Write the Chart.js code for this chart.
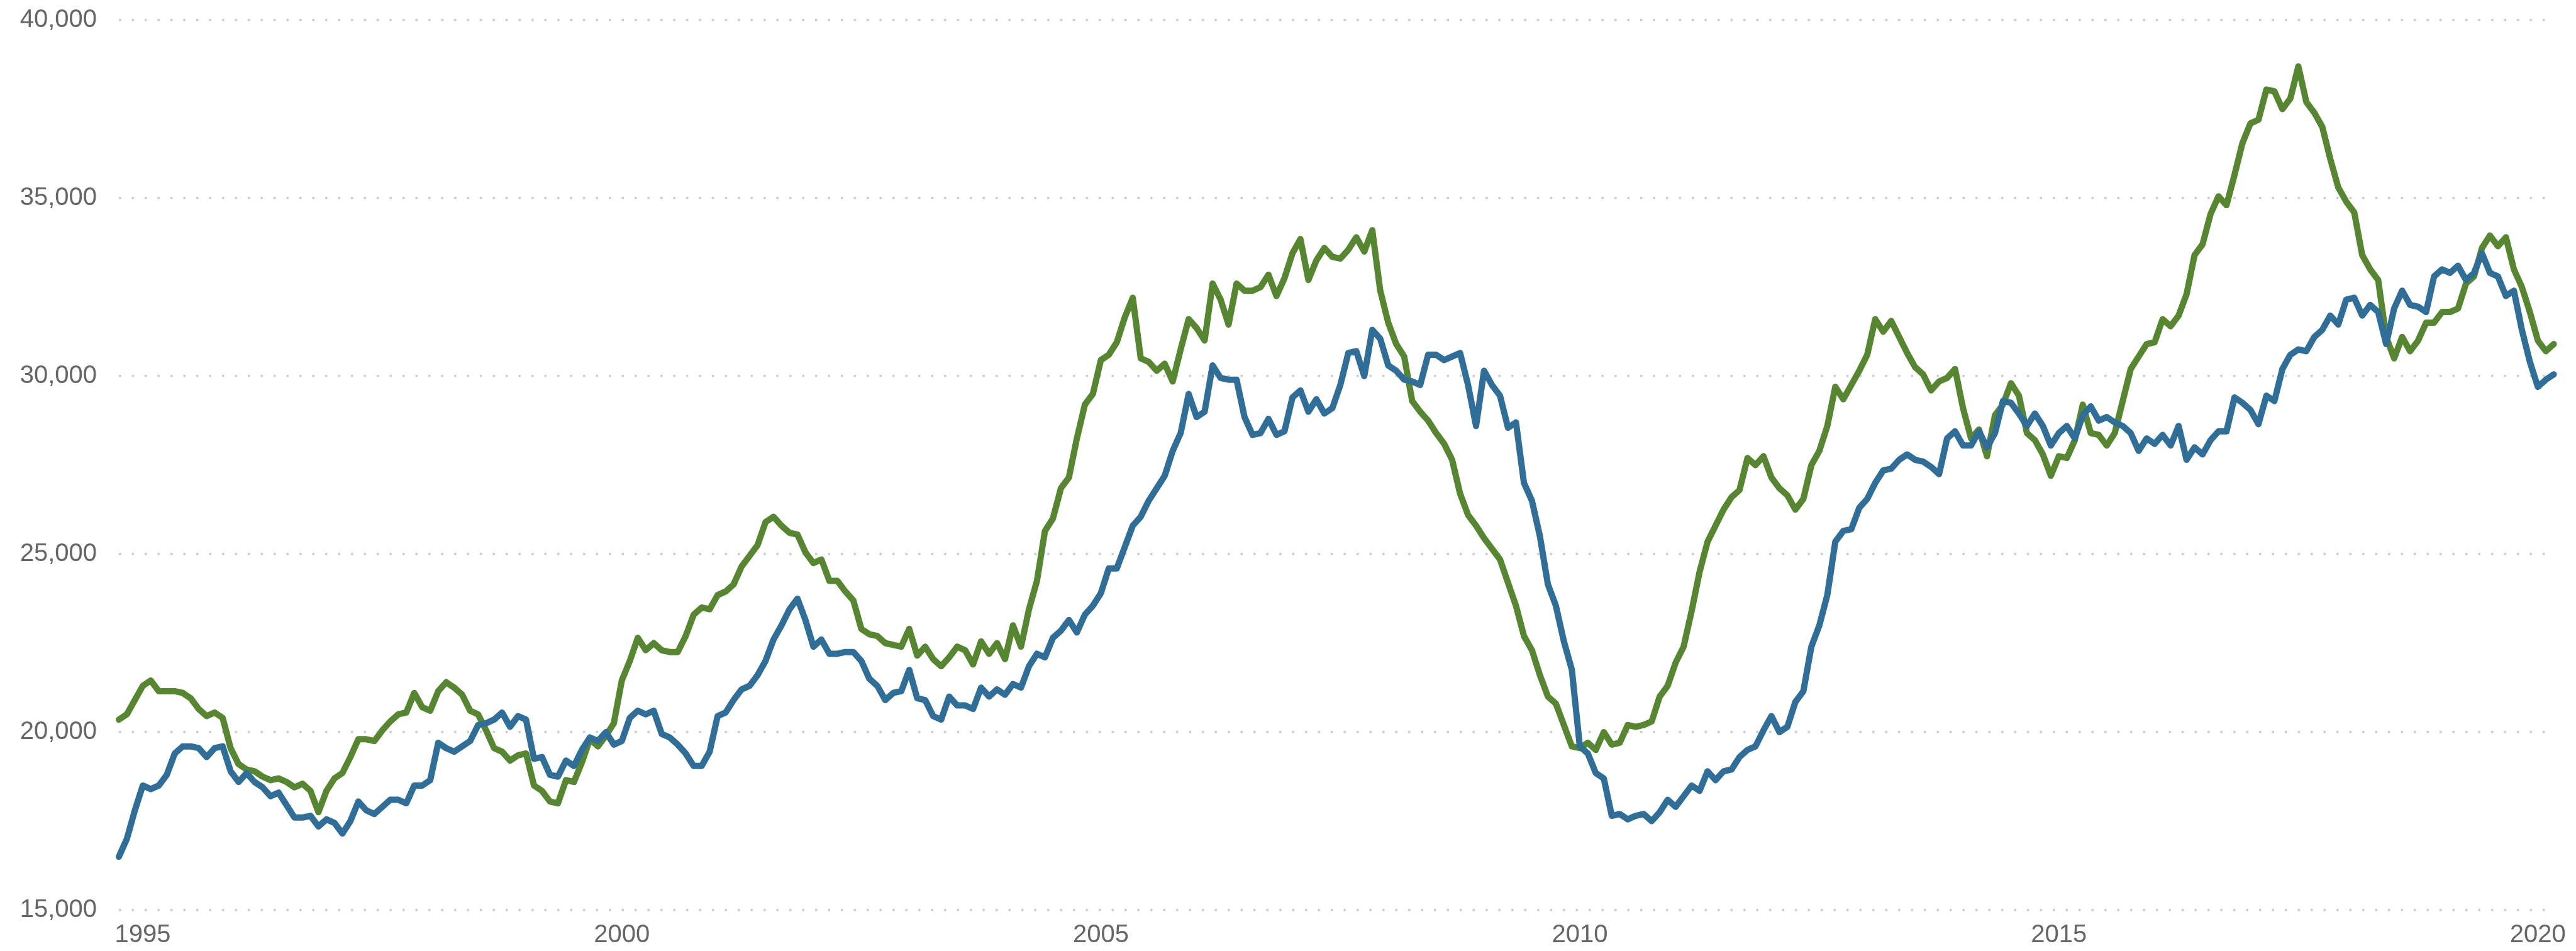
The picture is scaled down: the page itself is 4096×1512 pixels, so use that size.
<!DOCTYPE html>
<html>
<head>
<meta charset="utf-8">
<title>Chart</title>
<script src="https://cdn.jsdelivr.net/npm/chart.js@4.4.1/dist/chart.umd.min.js"></script>
<style>
  html, body { margin: 0; padding: 0; background: #ffffff; }
  #wrap { width: 4096px; height: 1512px; position: relative; }
</style>
</head>
<body>
<div id="wrap"><canvas id="chartCanvas"></canvas></div>
<script>
// monthly points, first one is Oct 1994, last one Mar 2020
const FIRST_YEAR = 1994
const FIRST_MONTH = 10
const yearTicks = ['1995', '2000', '2005', '2010', '2015', '2020']

// rows: Oct-Dec 1994, then one row per year 1995..2019, then Jan-Mar 2020
const greenSeries = [
	20350, 20500, 20900,
	21300, 21450, 21150, 21150, 21150, 21100, 20950, 20650, 20450, 20550, 20400, 19550,
	19100, 18950, 18900, 18750, 18650, 18700, 18600, 18450, 18550, 18350, 17750, 18350,
	18700, 18850, 19300, 19800, 19800, 19750, 20050, 20300, 20500, 20550, 21100, 20700,
	20600, 21150, 21400, 21250, 21050, 20600, 20500, 20050, 19550, 19450, 19200, 19350,
	19400, 18500, 18350, 18050, 18000, 18650, 18600, 19150, 19800, 19600, 19900, 20250,
	21450, 22000, 22650, 22300, 22500, 22300, 22250, 22250, 22700, 23300, 23500, 23450,
	23850, 23950, 24150, 24650, 24950, 25250, 25900, 26050, 25800, 25600, 25550, 25050,
	24750, 24850, 24250, 24250, 23950, 23700, 22900, 22750, 22700, 22500, 22450, 22400,
	22900, 22150, 22400, 22050, 21850, 22100, 22400, 22300, 21900, 22550, 22200, 22500,
	22050, 23000, 22400, 23450, 24250, 25650, 26000, 26850, 27150, 28250, 29200, 29500,
	30450, 30600, 30950, 31650, 32200, 30500, 30400, 30150, 30350, 29850, 30750, 31600,
	31350, 31000, 32600, 32150, 31450, 32600, 32400, 32400, 32500, 32850, 32250, 32750,
	33450, 33850, 32700, 33250, 33600, 33350, 33300, 33550, 33900, 33500, 34100, 32400,
	31500, 30900, 30550, 29300, 29000, 28750, 28400, 28100, 27650, 26700, 26100, 25800,
	25450, 25150, 24850, 24200, 23550, 22700, 22300, 21600, 21000, 20800, 20200, 19600,
	19550, 19700, 19500, 20000, 19650, 19700, 20200, 20150, 20200, 20300, 21000, 21300,
	21950, 22400, 23400, 24500, 25350, 25800, 26250, 26600, 26800, 27700, 27500, 27750,
	27150, 26850, 26650, 26250, 26550, 27500, 27900, 28600, 29700, 29350, 29750, 30150,
	30600, 31600, 31250, 31550, 31100, 30650, 30250, 30050, 29600, 29850, 29950, 30200,
	29100, 28250, 28500, 27750, 28900, 29200, 29800, 29450, 28400, 28200, 27800, 27200,
	27750, 27700, 28200, 29200, 28400, 28350, 28050, 28400, 29300, 30200, 30550, 30900,
	30950, 31600, 31400, 31700, 32300, 33400, 33700, 34550, 35050, 34800, 35650, 36550,
	37100, 37200, 38050, 38000, 37500, 37800, 38700, 37700, 37400, 37000, 36100, 35300,
	34900, 34600, 33400, 33000, 32700, 31100, 30500, 31100, 30700, 31000, 31500, 31500,
	31800, 31800, 31900, 32600, 32800, 33600, 33950, 33650, 33900, 33000, 32500, 31800,
	31000, 30700, 30900
]

const blueSeries = [
	16500, 17000, 17800,
	18500, 18400, 18500, 18800, 19400, 19600, 19600, 19550, 19300, 19550, 19600, 18900,
	18600, 18850, 18600, 18450, 18200, 18300, 17950, 17600, 17600, 17650, 17350, 17550,
	17450, 17150, 17500, 18050, 17800, 17700, 17900, 18100, 18100, 18000, 18500, 18500,
	18650, 19700, 19550, 19450, 19600, 19750, 20200, 20250, 20350, 20550, 20150, 20450,
	20350, 19250, 19300, 18800, 18750, 19200, 19050, 19500, 19850, 19750, 20000, 19650,
	19750, 20400, 20600, 20500, 20600, 19950, 19850, 19650, 19400, 19050, 19050, 19450,
	20450, 20550, 20900, 21200, 21300, 21600, 22000, 22600, 23000, 23450, 23750, 23150,
	22400, 22600, 22200, 22200, 22250, 22250, 22000, 21500, 21300, 20900, 21100, 21150,
	21750, 20950, 20900, 20450, 20350, 21000, 20750, 20750, 20650, 21250, 21000, 21200,
	21050, 21350, 21250, 21850, 22200, 22100, 22650, 22850, 23150, 22800, 23300, 23550,
	23900, 24600, 24600, 25200, 25800, 26050, 26500, 26850, 27200, 27900, 28400, 29500,
	28850, 29000, 30300, 29950, 29900, 29900, 28850, 28350, 28400, 28800, 28350, 28450,
	29400, 29600, 29000, 29350, 28950, 29100, 29750, 30650, 30700, 30000, 31300, 31050,
	30300, 30150, 29900, 29850, 29750, 30600, 30600, 30450, 30550, 30650, 29750, 28600,
	30150, 29750, 29450, 28550, 28700, 27000, 26500, 25500, 24150, 23550, 22550, 21750,
	19600, 19400, 18850, 18700, 17650, 17700, 17550, 17650, 17700, 17500, 17750, 18100,
	17900, 18200, 18500, 18350, 18900, 18650, 18900, 18950, 19300, 19500, 19600, 20050,
	20450, 20000, 20150, 20850, 21150, 22400, 23000, 23850, 25350, 25650, 25700, 26300,
	26550, 27000, 27350, 27400, 27650, 27800, 27650, 27600, 27450, 27250, 28250, 28450,
	28050, 28050, 28450, 28000, 28400, 29300, 29250, 28950, 28600, 28950, 28600, 28050,
	28400, 28600, 28250, 28900, 29150, 28750, 28850, 28700, 28600, 28400, 27900, 28250,
	28100, 28350, 28050, 28600, 27650, 28000, 27800, 28200, 28450, 28450, 29400, 29250,
	29050, 28650, 29450, 29300, 30200, 30600, 30750, 30700, 31100, 31300, 31700, 31450,
	32150, 32200, 31700, 32000, 31800, 30900, 31900, 32400, 32000, 31950, 31800, 32800,
	33000, 32900, 33100, 32700, 32900, 33450, 32900, 32800, 32250, 32400, 31300, 30400,
	29700, 29900, 30050
]

const Y_MIN = 15000
const Y_MAX = 40000
const Y_STEP = 5000

const GREEN = '#578630'
const BLUE = '#2f6e98'
const TEXT = '#666666'
const FONT = { family: '"Liberation Sans", Arial, Helvetica, sans-serif', size: 40 }

function monthLabels(n) {
	let out = []
	for (let i = 0; i < n; i++) {
		let m = FIRST_MONTH - 1 + i
		let y = FIRST_YEAR + Math.floor(m / 12)
		let mm = (m % 12) + 1
		out.push(y + '-' + (mm < 10 ? '0' + mm : mm))
	}
	return out
}

function dataset(label, color, data) {
	return {
		label: label,
		data: data,
		fill: false,
		borderColor: color,
		backgroundColor: color,
		borderWidth: 10,
		borderJoinStyle: 'round',
		borderCapStyle: 'round',
		pointRadius: 0,
		pointHoverRadius: 0,
		tension: 0
	}
}

const labels = monthLabels(greenSeries.length)

const config = {
	type: 'line',
	data: {
		labels: labels,
		// first dataset is painted last, so blue sits on top like the original
		datasets: [ dataset('blue', BLUE, blueSeries), dataset('green', GREEN, greenSeries) ]
	},
	options: {
		responsive: true,
		maintainAspectRatio: false,
		animation: false,
		devicePixelRatio: 1,
		layout: { padding: { top: 32, right: 25, bottom: 0, left: 0 } },
		plugins: { legend: { display: false }, tooltip: { enabled: false } },
		scales: {
			x: {
				grid: { display: false, drawTicks: false },
				border: { display: false },
				ticks: {
					autoSkip: false,
					maxRotation: 0,
					minRotation: 0,
					padding: 16,
					color: TEXT,
					font: FONT,
					callback: function(value, index) {
						let lab = labels[index]
						let year = lab.substring(0, 4)
						if (lab.substring(5) === '01' && yearTicks.includes(year)) return year
						return null
					}
				},
				afterFit: function(scale) { scale.height = 65 }
			},
			y: {
				min: Y_MIN,
				max: Y_MAX,
				grid: { color: '#cccccc', lineWidth: 3.5, drawTicks: false },
				border: { display: false, dash: [3.5, 17] },
				ticks: {
					stepSize: Y_STEP,
					padding: 35,
					color: TEXT,
					font: FONT,
					callback: function(v) { return v.toLocaleString('en-US') }
				},
				afterFit: function(scale) {
					// fixed axis width, and no extra room above/below: the layout padding handles it
					scale.width = 189
					scale.paddingTop = 0
					scale.paddingBottom = 0
				}
			}
		}
	}
}

window.onload = function() {
	const ctx = document.getElementById('chartCanvas')
	window.myChart = new Chart(ctx, config)
}
</script>
</body>
</html>
